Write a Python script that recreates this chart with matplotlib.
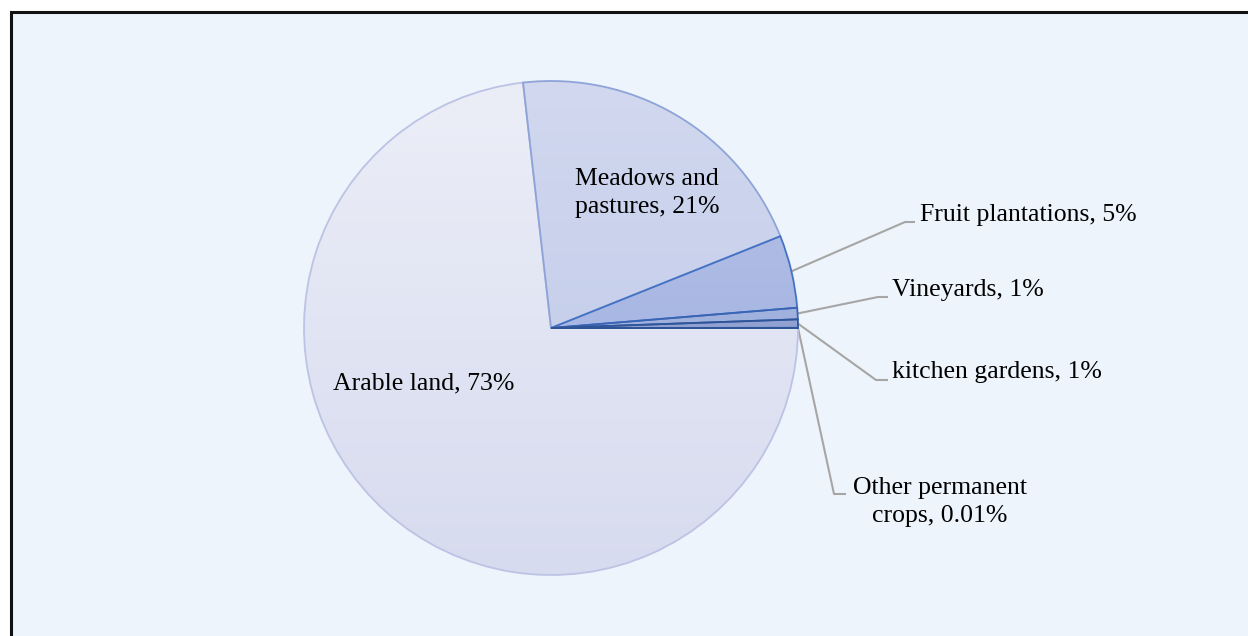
import numpy as np
import matplotlib
matplotlib.use("Agg")
import matplotlib.pyplot as plt
from matplotlib.colors import LinearSegmentedColormap
from matplotlib.patches import Rectangle

# land use shares (%), counter-clockwise from 3 o'clock
categories = ['Other permanent\ncrops', 'kitchen gardens', 'Vineyards',
              'Fruit plantations', 'Meadows and\npastures', 'Arable land']
shares = [0.01, 0.55, 0.75, 4.75, 20.75, 73.2]

# gradient fill (top colour, bottom colour) and outline for each slice
fills = [('#8e9fd0', '#7a8dc4'), ('#9aaad8', '#8898cc'), ('#a9b8e2', '#98aadb'),
         ('#b8c4e7', '#98aadf'), ('#d1d8ef', '#bdc7e8'), ('#eceef7', '#d7dbef')]
edges = ['#2f5597', '#2f5597', '#3a64b4', '#4472c4', '#8ea4d8', '#bcc3e4']

W, H = 1248, 636
CX, CY, R = 551, 328, 247


def py(y):
    # pixel row (from top) to data y
    return H - y


def pct(v):
    return '{:.2f}%'.format(v) if v < 0.5 else '{:.0f}%'.format(v)


def main():
    plt.rcParams['font.family'] = ['Liberation Serif', 'DejaVu Serif']
    fig = plt.figure(figsize=(W / 100, H / 100), dpi=100)
    fig.patch.set_facecolor('white')
    ax = fig.add_axes([0, 0, 1, 1])

    ax.add_patch(Rectangle((11, -5), W + 10, py(12) + 5, facecolor='#eef4fb',
                           edgecolor='#111111', linewidth=2.2, zorder=0))

    wedges, _ = ax.pie(shares, startangle=0, counterclock=True, radius=R,
                       center=(CX, py(CY)), frame=True,
                       wedgeprops=dict(linewidth=1.3))
    ax.set_xlim(0, W)
    ax.set_ylim(0, H)
    ax.set_aspect('equal')
    ax.axis('off')

    grad = np.linspace(0, 1, 256).reshape(-1, 1)
    extent = [CX - R, CX + R, py(CY) - R, py(CY) + R]
    n = len(wedges)
    for i, (w, (top, bottom), ec) in enumerate(zip(wedges, fills, edges)):
        cmap = LinearSegmentedColormap.from_list('g', [top, bottom])
        im = ax.imshow(grad, cmap=cmap, extent=extent, origin='upper',
                       aspect='auto', zorder=1)
        im.set_clip_path(w)
        w.set_facecolor('none')
        w.set_edgecolor(ec)
        # smaller slices keep their outline on top
        w.set_zorder(2 + (n - i) * 0.01)

    fs = 18.5
    ls = 1.3
    labels = [c + ', ' + pct(s) for c, s in zip(categories, shares)]

    # labels inside the two large slices
    ax.text(647, py(193), labels[4], ha='center', va='center', fontsize=fs,
            linespacing=ls, zorder=3)
    ax.text(424, py(383), labels[5], ha='center', va='center', fontsize=fs,
            zorder=3)

    # outside labels with elbow leader lines:
    # (elbow x, elbow y, end x, text x, text y, ha)
    outside = {
        3: (905, 222, 915, 920, 215, 'left'),
        2: (878, 297, 888, 892, 290, 'left'),
        1: (876, 380, 888, 892, 372, 'left'),
        0: (834, 494, 846, 940, 502, 'center'),
    }
    for i, (ex, ey, endx, tx, ty, ha) in outside.items():
        w = wedges[i]
        mid = np.deg2rad((w.theta1 + w.theta2) / 2)
        sx = CX + R * np.cos(mid)
        sy = py(CY) + R * np.sin(mid)
        ax.plot([sx, ex, endx], [sy, py(ey), py(ey)], color='#a6a6a6',
                linewidth=1.5, zorder=1.5, solid_capstyle='butt')
        ax.text(tx, py(ty), labels[i], ha=ha, va='center', fontsize=fs,
                linespacing=ls, multialignment='center', zorder=3)

    fig.savefig('out.png', dpi=100, facecolor=fig.get_facecolor())


if __name__ == '__main__':
    main()
